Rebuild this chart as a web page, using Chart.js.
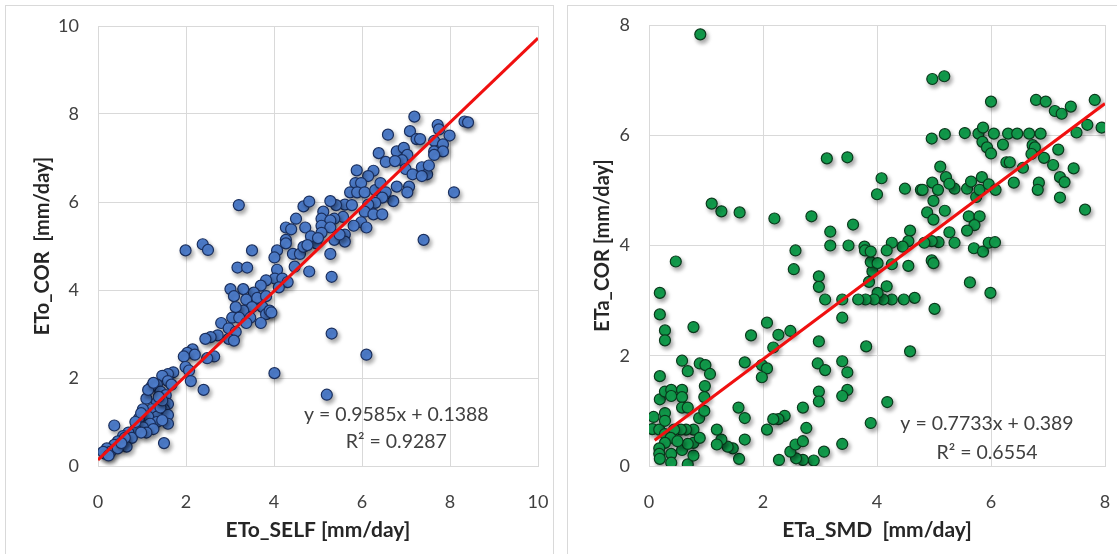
<!DOCTYPE html>
<html>
<head>
<meta charset="utf-8">
<script src="https://cdn.jsdelivr.net/npm/chart.js@4/dist/chart.umd.min.js"></script>
<style>
  html, body { margin: 0; padding: 0; background: #fff; }
  body { width: 1117px; height: 554px; position: relative; overflow: hidden; }
  .panel { position: absolute; border: 1px solid #d9d9d9; }
  canvas { position: absolute; top: 0; }
</style>
</head>
<body>
<div class="panel" style="left:5px;top:5px;width:547px;height:560px;"></div>
<div class="panel" style="left:567px;top:5px;width:560px;height:560px;"></div>
<canvas id="leftChart" width="556" height="554" style="left:0"></canvas>
<canvas id="rightChart" width="557" height="554" style="left:560px"></canvas>
<script>
// left panel: ETo_SELF vs ETo_COR
const etoSelf = [7.19,7.09,7.24,7.32,7.72,7.75,7.99,8.33,8.41,6.59,7.64,7.84,7.64,7.84,7.64,8.09,7.40,6.38,6.79,6.95,
  7.03,6.91,6.54,6.75,6.99,7.15,7.36,7.48,7.36,7.52,7.07,6.79,7.03,6.71,6.26,6.14,5.88,5.85,5.98,5.73,
  5.89,6.06,6.30,6.42,6.54,6.46,6.30,6.14,6.06,6.26,6.46,5.98,6.10,5.81,5.61,5.41,5.28,5.77,5.57,5.37,
  5.12,5.08,5.28,5.08,5.28,5.37,5.61,5.61,5.49,5.08,4.96,4.67,4.80,4.50,4.71,4.84,5.00,4.27,4.39,4.27,
  4.27,4.43,4.59,4.67,4.76,4.47,4.80,5.28,5.31,5.31,6.10,5.20,4.01,3.50,3.20,3.17,3.39,1.99,2.38,2.50,
  4.07,4.01,4.07,4.02,4.19,4.31,4.11,3.82,3.70,3.54,3.30,3.01,3.09,3.37,3.62,3.82,3.74,3.50,3.30,3.13,
  3.05,3.21,3.46,3.82,3.90,3.94,3.70,3.37,2.80,2.97,3.13,2.97,3.09,2.72,2.56,2.44,2.64,2.48,2.15,2.03,
  2.20,1.95,1.99,2.07,2.11,2.40,1.50,0.37,1.71,1.59,1.46,1.59,1.67,1.34,1.22,1.42,1.54,1.10,1.34,1.59,
  1.50,1.22,1.02,1.34,1.59,1.14,0.93,1.34,1.18,1.02,1.26,1.10,0.85,0.69,0.57,0.77,0.45,0.37,0.20,0.28,
  0.16,0.65,0.45,1.42,1.46,1.38,1.14,1.26,0.98,0.85,1.59,1.46,0.61,0.98,0.53,0.12,0.24];
const etoCor = [7.94,7.61,7.43,7.43,7.75,7.65,7.51,7.83,7.81,7.53,7.39,7.31,7.15,7.15,7.07,6.22,5.14,7.11,7.15,7.23,
  7.07,6.95,6.91,6.93,6.75,6.63,6.79,6.63,6.59,6.83,6.35,6.35,6.22,6.02,6.71,6.59,6.72,6.43,6.43,6.22,
  6.22,6.22,6.27,6.43,6.22,6.10,5.98,5.94,5.78,5.72,5.72,5.54,5.42,5.46,5.94,5.93,6.02,5.93,5.66,5.62,
  5.78,5.62,5.58,5.46,5.42,5.14,5.26,5.10,5.26,5.30,5.06,5.90,6.01,5.62,5.42,5.22,5.18,5.42,5.38,5.14,
  5.06,4.82,4.82,4.98,5.02,4.53,4.42,4.82,4.30,3.01,2.53,1.62,2.11,4.90,5.93,4.51,4.51,4.90,5.04,4.91,
  4.90,4.74,4.46,4.26,4.26,4.18,4.06,4.22,4.10,3.94,4.02,4.02,3.86,3.78,3.82,3.86,3.61,3.61,3.53,3.61,
  3.37,3.37,3.37,3.45,3.53,3.49,3.25,3.25,3.25,3.13,3.05,2.89,2.85,2.97,2.93,2.89,2.49,2.45,2.65,2.57,
  2.53,2.49,2.25,2.17,1.93,1.73,0.52,0.92,2.13,2.09,2.05,1.93,1.85,1.85,1.81,1.69,1.61,1.53,1.45,1.41,
  1.29,1.29,1.29,1.12,1.16,1.12,1.08,1.00,0.96,0.88,0.84,0.76,0.84,0.76,0.68,0.64,0.56,0.48,0.40,0.32,
  0.28,0.44,0.40,1.33,1.49,1.57,1.73,1.89,1.20,1.00,0.96,1.04,0.64,0.76,0.52,0.32,0.24];

// right panel: ETa_SMD vs ETa_COR
const etaSmd = [0.90,4.97,5.18,6.00,6.79,6.96,7.12,7.24,7.40,7.82,7.94,7.69,7.50,4.96,5.19,5.54,5.78,5.86,6.05,6.30,
  6.46,6.67,6.87,5.85,5.93,6.00,6.21,6.73,6.77,6.71,6.93,7.18,6.27,6.33,6.56,7.09,7.45,6.40,6.84,6.82,
  7.21,7.29,7.21,7.65,5.11,4.97,5.21,5.07,5.36,5.27,5.58,5.65,5.84,5.74,5.80,5.96,6.08,4.77,4.80,4.49,
  4.99,4.88,4.99,5.19,5.61,5.80,5.71,5.58,5.27,5.36,5.08,4.96,4.83,4.58,4.55,4.45,4.26,4.17,4.96,4.99,
  4.55,4.26,5.70,5.86,5.96,6.07,5.63,5.99,5.01,4.58,4.66,4.47,4.26,4.11,4.01,3.95,3.80,3.67,4.17,3.86,
  3.92,3.89,4.01,3.78,3.79,3.89,4.00,4.08,3.50,3.58,3.18,3.18,3.12,3.48,2.85,2.20,1.59,1.27,1.10,0.47,
  2.57,2.54,2.98,2.98,3.09,3.39,3.39,0.19,0.19,0.28,0.28,0.78,2.07,1.79,2.27,2.48,2.18,2.98,3.81,0.58,
  0.68,0.89,0.99,1.07,0.98,0.19,1.68,1.98,2.07,1.98,2.96,3.09,3.39,3.48,3.48,3.39,2.98,2.98,4.18,3.89,
  3.39,3.07,2.89,2.70,2.58,2.48,2.57,2.70,2.76,2.70,2.38,2.27,2.18,2.07,2.28,1.58,1.47,1.38,1.27,1.19,
  1.19,1.68,1.57,1.68,0.08,0.06,0.18,0.28,0.28,0.28,0.19,0.28,0.39,0.39,0.58,0.58,0.58,0.68,0.88,0.97,
  0.97,0.78,0.65,0.56,0.44,0.38,0.28,0.18,0.18,0.19,0.39,0.39,0.58,0.68,0.78,0.78,0.89,0.68,0.50];
const etaCor = [7.83,7.02,7.07,6.61,6.64,6.61,6.44,6.39,6.52,6.64,6.14,6.19,6.05,5.94,6.02,6.04,6.03,6.14,6.03,6.03,
  6.03,6.03,6.03,5.88,5.78,5.67,5.83,5.82,5.78,5.66,5.59,5.74,5.51,5.51,5.41,5.46,5.40,5.14,5.14,5.01,
  5.24,5.15,4.87,4.65,5.43,5.14,5.24,5.01,5.03,5.12,5.03,5.16,5.24,4.88,5.01,5.11,5.01,5.01,5.01,5.03,
  4.81,4.60,4.47,4.63,4.53,4.53,4.37,4.27,4.24,4.05,4.06,4.08,4.05,4.27,4.08,3.98,4.05,3.91,3.73,3.68,
  3.63,3.66,3.95,3.89,4.05,4.06,3.33,3.14,2.85,2.08,3.05,3.02,3.02,3.02,3.14,3.02,3.02,3.02,3.26,3.34,
  3.53,3.70,3.68,3.98,3.91,3.89,4.93,5.22,4.00,4.38,4.00,4.25,5.58,5.60,4.53,4.49,4.60,4.62,4.76,3.71,
  3.91,3.57,3.44,3.25,3.02,3.02,2.69,3.14,2.75,2.46,2.28,2.52,2.60,2.37,2.38,2.45,2.15,2.26,2.17,1.91,
  1.72,1.86,1.83,1.67,1.45,1.63,1.88,1.83,1.77,1.61,1.86,1.74,1.90,1.70,1.38,1.27,1.35,1.17,1.16,0.78,
  0.40,0.26,0.10,0.11,0.14,0.26,0.39,0.45,0.69,1.06,0.91,0.85,0.85,0.66,0.11,0.13,0.32,0.35,0.48,0.39,
  0.66,0.48,1.06,0.87,0.89,0.67,0.66,0.96,0.82,0.58,1.21,1.35,1.38,1.27,1.38,1.25,1.06,1.06,0.87,1.00,
  1.25,0.66,0.66,0.66,0.66,0.51,0.42,0.32,0.22,0.13,0.22,0.06,0.29,0.03,0.19,0.42,0.51,0.40,0.45];

// trendline fits shown on the charts
const leftFit = [0.9585, 0.1388];
const leftFitRange = [0, 10];
const leftR2 = "0.9287";
const rightFit = [0.7733, 0.389];
const rightFitRange = [0.1, 8];
const rightR2 = "0.6554";

const TICK_COLOR = "#404040";
const GRID_COLOR = "#d9d9d9";
const FONT = "Lato, 'Open Sans', sans-serif";

function toPoints(xs, ys) {
  return xs.map((x, i) => ({ x: x, y: ys[i] }));
}

function fitLine(fit, range) {
  return range.map(x => ({ x: x, y: fit[0] * x + fit[1] }));
}

const shadowPlugin = {
  id: "pointShadow",
  beforeDatasetDraw(chart, args) {
    if (args.meta.type !== "scatter") return;
    const ctx = chart.ctx;
    ctx.save();
    ctx.shadowColor = "rgba(0,0,0,0.35)";
    ctx.shadowBlur = 4;
    ctx.shadowOffsetX = 2;
    ctx.shadowOffsetY = 3;
  },
  afterDatasetDraw(chart, args) {
    if (args.meta.type !== "scatter") return;
    chart.ctx.restore();
  }
};

const equationPlugin = {
  id: "equation",
  afterDraw(chart, args, opts) {
    const ctx = chart.ctx;
    const xs = chart.scales.x, ys = chart.scales.y;
    ctx.save();
    ctx.fillStyle = TICK_COLOR;
    ctx.font = "19.5px " + FONT;
    ctx.textAlign = "center";
    ctx.textBaseline = "middle";
    ctx.fillText(opts.line1, xs.getPixelForValue(opts.at[0]), ys.getPixelForValue(opts.at[1]));
    ctx.fillText(opts.line2, xs.getPixelForValue(opts.at[0]), ys.getPixelForValue(opts.at[2]));
    ctx.restore();
  }
};

function makeChart(id, pts, fit, range, colors, axes, eq) {
  const ctx = document.getElementById(id).getContext("2d");
  return new Chart(ctx, {
    type: "scatter",
    data: {
      datasets: [{
        type: "line",
        label: "fit",
        data: fitLine(fit, range),
        borderColor: "#f01010",
        borderWidth: 3,
        pointRadius: 0,
        fill: false,
        order: 0
      }, {
        type: "scatter",
        label: "obs",
        data: pts,
        backgroundColor: colors[0],
        borderColor: colors[1],
        borderWidth: 1.2,
        pointRadius: 5.5,
        order: 1
      }]
    },
    options: {
      responsive: false,
      animation: false,
      devicePixelRatio: 1,
      layout: { padding: { left: 0, right: axes.padRight, top: axes.padTop, bottom: 0 } },
      plugins: {
        legend: { display: false },
        tooltip: { enabled: false },
        equation: eq
      },
      scales: {
        x: {
          type: "linear",
          min: 0, max: axes.xMax,
          ticks: { stepSize: 2, padding: 25, color: TICK_COLOR, font: { family: FONT, size: 18 } },
          grid: { color: GRID_COLOR, drawTicks: false },
          border: { color: GRID_COLOR },
          title: { display: true, text: axes.xTitle, color: "#262626",
            font: { family: FONT, size: 21, weight: "bold" }, padding: { top: 0, bottom: 11 } },
          afterFit(scale) {
            scale.height = 88;
            scale.paddingLeft = 0;
            scale.paddingRight = 0;
          }
        },
        y: {
          type: "linear",
          min: 0, max: axes.yMax,
          ticks: { stepSize: 2, padding: 19, color: TICK_COLOR, font: { family: FONT, size: 18 } },
          grid: { color: GRID_COLOR, drawTicks: false },
          border: { color: GRID_COLOR },
          title: { display: true, text: axes.yTitle, color: "#262626",
            font: { family: FONT, size: 20, weight: "bold" }, padding: { top: 31, bottom: 0 } },
          afterFit(scale) {
            scale.width = axes.yWidth;
            scale.paddingTop = 0;
            scale.paddingBottom = 0;
          }
        }
      }
    },
    plugins: [shadowPlugin, equationPlugin]
  });
}

makeChart("leftChart", toPoints(etoSelf, etoCor), leftFit, leftFitRange,
  ["#4f7fcf", "#1a2f5e"],
  { xMax: 10, yMax: 10, xTitle: "ETo_SELF [mm/day]", yTitle: "ETo_COR  [mm/day]",
    padRight: 18, padTop: 26, yWidth: 98 },
  { line1: "y = 0.9585x + 0.1388", line2: "R\u00b2 = " + leftR2, at: [6.78, 1.16, 0.55] });

makeChart("rightChart", toPoints(etaSmd, etaCor), rightFit, rightFitRange,
  ["#12a04e", "#0a3a1c"],
  { xMax: 8, yMax: 8, xTitle: "ETa_SMD  [mm/day]", yTitle: "ETa_COR [mm/day]",
    padRight: 12, padTop: 25, yWidth: 89 },
  { line1: "y = 0.7733x + 0.389", line2: "R\u00b2 = " + rightR2, at: [5.93, 0.76, 0.25] });
</script>
</body>
</html>
